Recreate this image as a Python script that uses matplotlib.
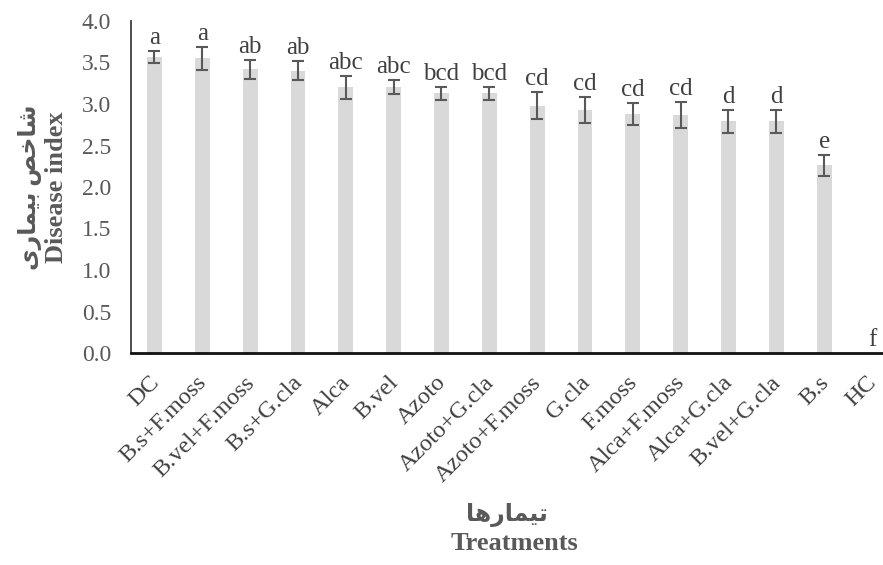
import numpy as np
import matplotlib
matplotlib.use("Agg")
import matplotlib.pyplot as plt
from matplotlib.ticker import FormatStrFormatter
from matplotlib.transforms import ScaledTranslation

# treatments, means, standard errors and mean-separation letters
treatments = ["DC", "B.s+F.moss", "B.vel+F.moss", "B.s+G.cla", "Alca", "B.vel",
              "Azoto", "Azoto+G.cla", "Azoto+F.moss", "G.cla", "F.moss",
              "Alca+F.moss", "Alca+G.cla", "B.vel+G.cla", "B.s", "HC"]
means = [3.57, 3.55, 3.42, 3.40, 3.20, 3.20, 3.13, 3.13, 2.98, 2.93, 2.88,
         2.87, 2.79, 2.79, 2.26, 0.0]
errors = [0.07, 0.135, 0.115, 0.115, 0.135, 0.085, 0.08, 0.08, 0.16, 0.155,
          0.135, 0.16, 0.14, 0.14, 0.13, 0.0]
letters = ["a", "a", "ab", "ab", "abc", "abc", "bcd", "bcd", "cd", "cd", "cd",
           "cd", "d", "d", "e", "f"]
yticks = [0.0, 0.5, 1.0, 1.5, 2.0, 2.5, 3.0, 3.5, 4.0]

# Persian labels written in presentation forms, visual order
ylabel_fa = "\ufbfc\ufead\ufe8e\ufee4\ufbff\ufe91 \ufeba\ufea7\ufe8e\ufeb7"
xlabel_fa = "\ufe8e\ufeeb\ufead\ufe8e\ufee4\ufbff\ufe97"

fonts = ["Liberation Serif", "DejaVu Sans"]
plt.rcParams["font.family"] = fonts

W, H = 883, 565
fig = plt.figure(figsize=(W / 100, H / 100), dpi=100)
ax = fig.add_axes([130.5 / W, 1 - 353 / H, 1 - 130.5 / W, (353 - 21) / H])

x = np.arange(len(treatments))
means_arr = np.array(means)
err_arr = np.array(errors)
has_err = err_arr > 0

ax.bar(x, means_arr, width=0.31, color="#d9d9d9", zorder=2)
ax.errorbar(x[has_err], means_arr[has_err], yerr=err_arr[has_err], fmt="none",
            ecolor="#595959", elinewidth=1.5, capsize=4, capthick=1.5, zorder=3)

for xi, m, e, lab in zip(x, means, errors, letters):
    ax.annotate(lab, (xi, m + e), xytext=(0, 5), textcoords="offset points",
                ha="center", va="baseline", fontsize=18, color="#404040")

ax.set_xlim(-0.5, 15.23)
ax.set_ylim(0, 4)
ax.set_yticks(yticks)
ax.yaxis.set_major_formatter(FormatStrFormatter("%.1f"))
ax.set_xticks(x)
ax.tick_params(axis="both", length=0)
ax.tick_params(axis="y", labelsize=17, labelcolor="#595959", pad=14)
ax.tick_params(axis="x", pad=11)
ax.set_xticklabels(treatments, rotation=45, ha="right", va="top",
                   rotation_mode="anchor", fontsize=17.5, color="#404040")
# nudge the slanted labels along their baseline
shift = ScaledTranslation(-0.06, -0.04, fig.dpi_scale_trans)
for lbl in ax.get_xticklabels():
    lbl.set_transform(lbl.get_transform() + shift)

for side in ["top", "right"]:
    ax.spines[side].set_visible(False)
ax.spines["left"].set_color("#404040")
ax.spines["left"].set_linewidth(1.3)
ax.spines["bottom"].set_color("#111111")
ax.spines["bottom"].set_linewidth(2)

# axis titles, Persian above English
fig.text(30 / W, 1 - 187 / H, ylabel_fa, rotation=90, ha="center", va="center",
         fontsize=17, fontweight="bold", color="#595959")
fig.text(57 / W, 1 - 187 / H, "Disease index", rotation=90, ha="center",
         va="center", fontsize=19, fontweight="bold", color="#595959")
fig.text(507 / W, 1 - 515 / H, xlabel_fa, ha="center", va="center",
         fontsize=17, fontweight="bold", color="#595959")
fig.text(514 / W, 1 - 543 / H, "Treatments", ha="center", va="center",
         fontsize=19, fontweight="bold", color="#595959")

fig.savefig("out.png", dpi=100)
